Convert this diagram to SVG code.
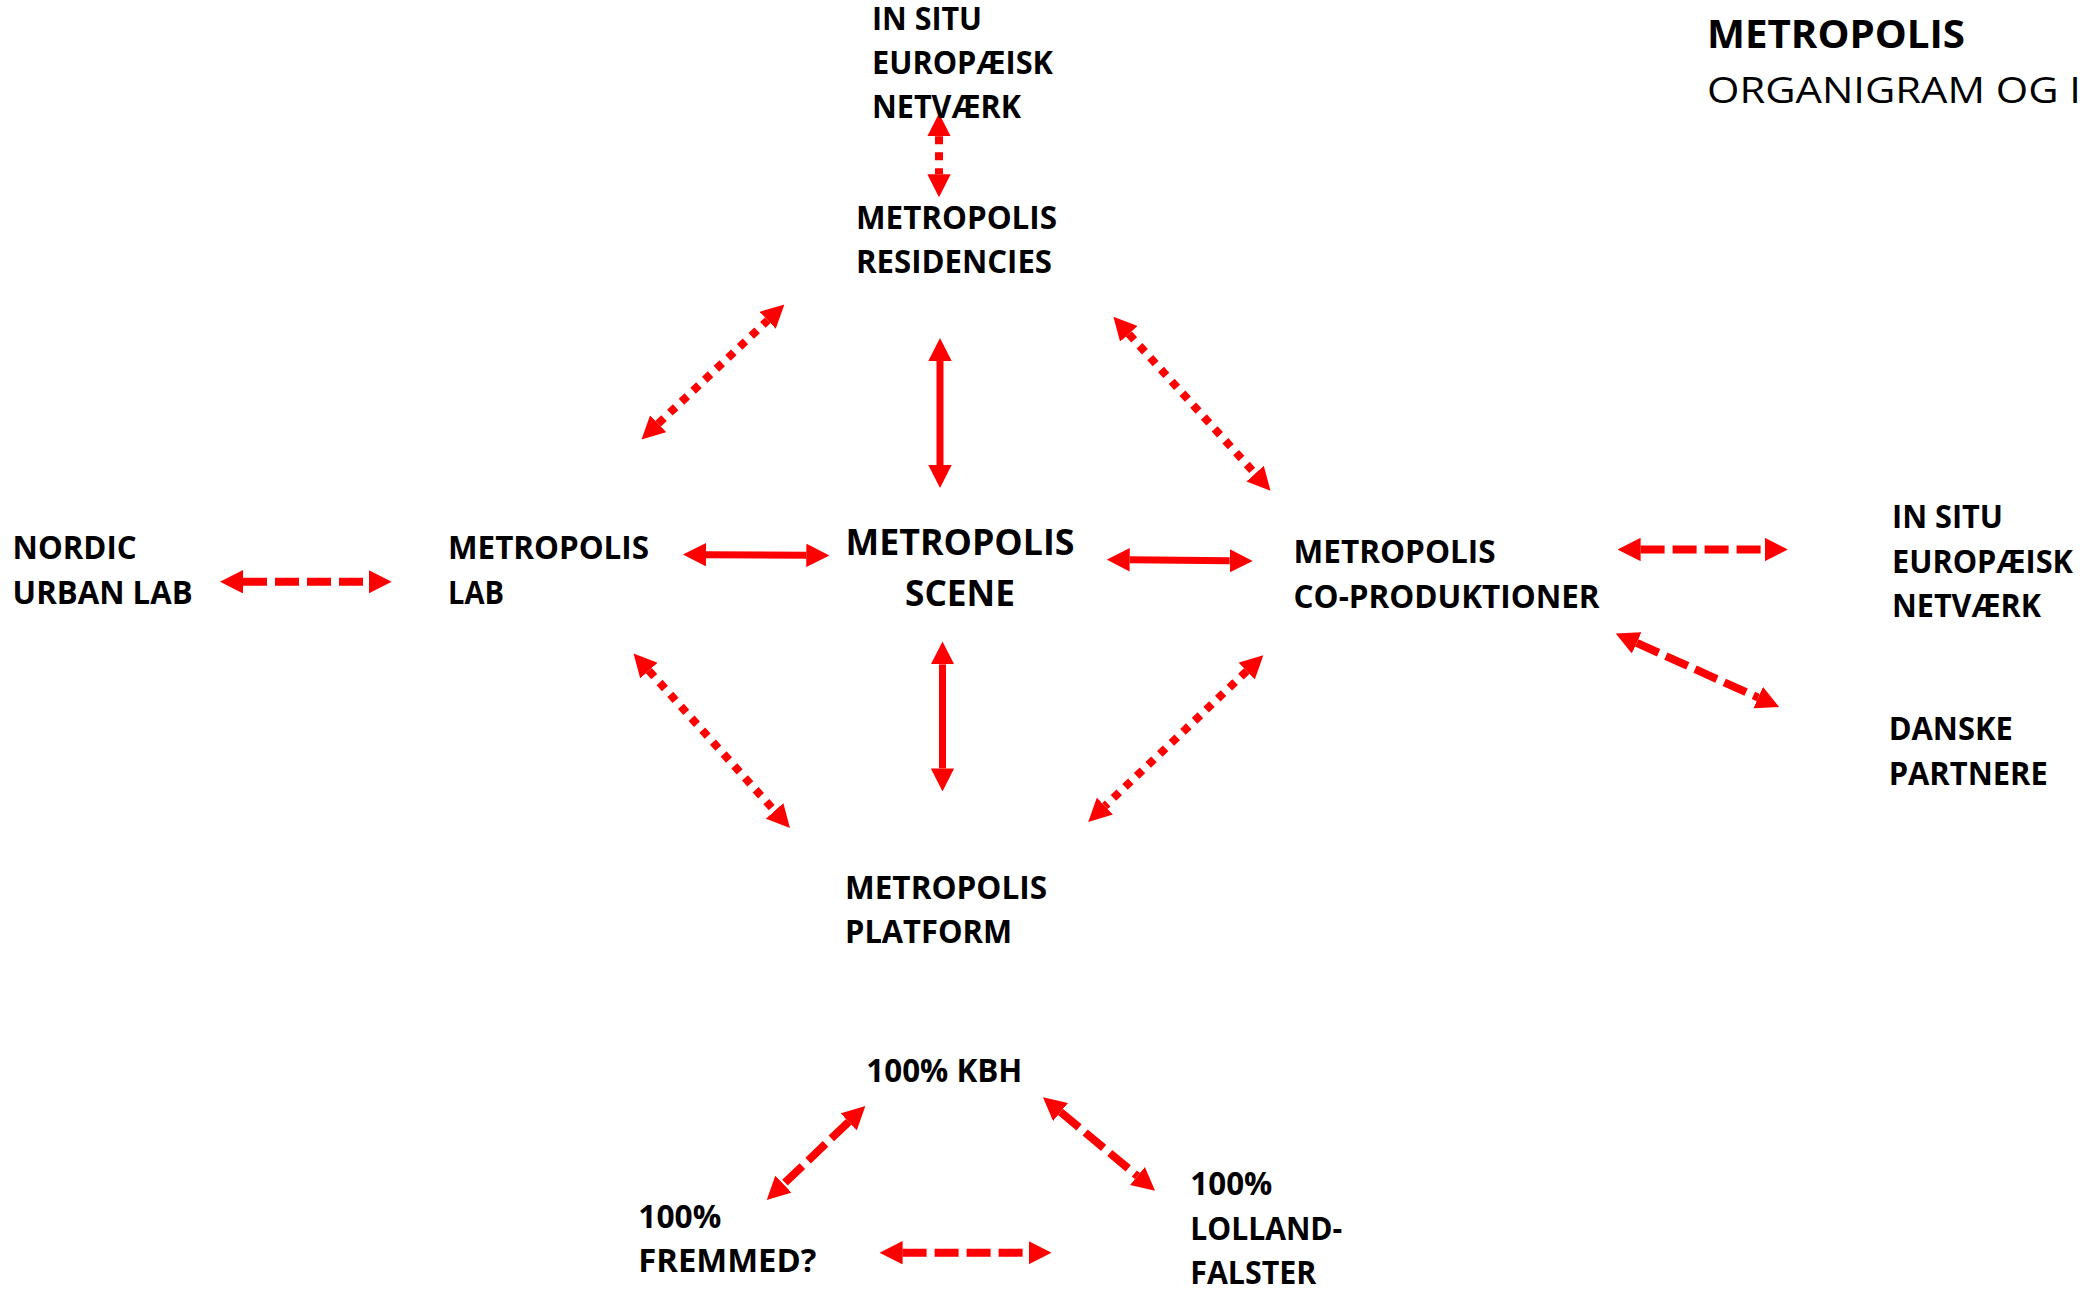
<svg xmlns="http://www.w3.org/2000/svg" width="2080" height="1289" viewBox="0 0 2080 1289">
<defs>
<marker id="ah" viewBox="0 0 23 23.4" refX="0" refY="11.7" markerWidth="23" markerHeight="23.4" markerUnits="userSpaceOnUse" orient="auto-start-reverse">
<path d="M0,0 L23,11.7 L0,23.4 Z" fill="#FF0000"/>
</marker>
</defs>
<style>
.t{font-family:"Open Sans","Noto Sans","Liberation Sans",sans-serif;font-weight:700;font-size:32px;fill:#000}
.big{font-size:36px}
.title{font-size:40px}
.reg{font-weight:400;font-size:37px}
.c{fill:none;stroke:#FF0000;marker-start:url(#ah);marker-end:url(#ah)}
.solid{stroke-width:7}
.dot{stroke-width:8;stroke-dasharray:8 8}
.dash{stroke-width:8;stroke-dasharray:24 8}
</style>
<rect width="2080" height="1289" fill="#FFFFFF"/>

<g id="connectors">
<path class="c dot" d="M939,136.3 L939,174.3"/>
<path class="c solid" d="M940,361 L940,465"/>
<path class="c solid" d="M942.5,664.4 L942.5,768.4"/>
<path class="c solid" d="M706,554.66 L806.3,555.34"/>
<path class="c solid" d="M1129.7,559.82 L1229.7,560.78"/>
<path class="c dot" d="M658.2,423.7 L767.7,320.3"/>
<path class="c dot" d="M1128.8,333.9 L1255.1,473.6"/>
<path class="c dot" d="M648.9,670.6 L774.6,810.9"/>
<path class="c dot" d="M1246.7,671.1 L1104.9,806.1"/>
<path class="c dash" d="M243,581.7 L368.7,581.7"/>
<path class="c dash" d="M1640.6,549.5 L1764.9,549.5"/>
<path class="c dash" d="M1636.7,642.9 L1758.2,697.6"/>
<path class="c dash" d="M848.7,1121.9 L783.4,1184.1"/>
<path class="c dash" d="M1060.6,1112 L1137.4,1176"/>
<path class="c dash" d="M902.6,1252.7 L1028.5,1252.7"/>
</g>

<g id="title">
<text class="t title" x="1707" y="48" textLength="258" lengthAdjust="spacingAndGlyphs">METROPOLIS</text>
<text class="t reg" x="1707" y="103" textLength="374" lengthAdjust="spacingAndGlyphs">ORGANIGRAM OG I</text>
</g>

<g id="insitu-top">
<text class="t" x="872" y="30" textLength="110" lengthAdjust="spacingAndGlyphs">IN SITU</text>
<text class="t" x="872" y="74" textLength="181" lengthAdjust="spacingAndGlyphs">EUROPÆISK</text>
<text class="t" x="872" y="118" textLength="149" lengthAdjust="spacingAndGlyphs">NETVÆRK</text>
</g>

<g id="residencies">
<text class="t" x="856" y="229" textLength="201" lengthAdjust="spacingAndGlyphs">METROPOLIS</text>
<text class="t" x="856" y="273" textLength="196" lengthAdjust="spacingAndGlyphs">RESIDENCIES</text>
</g>

<g id="nordic">
<text class="t" x="12.6" y="559" textLength="124" lengthAdjust="spacingAndGlyphs">NORDIC</text>
<text class="t" x="12.6" y="604" textLength="180" lengthAdjust="spacingAndGlyphs">URBAN LAB</text>
</g>

<g id="lab">
<text class="t" x="448" y="559" textLength="201" lengthAdjust="spacingAndGlyphs">METROPOLIS</text>
<text class="t" x="448" y="604" textLength="56" lengthAdjust="spacingAndGlyphs">LAB</text>
</g>

<g id="scene">
<text class="t big" x="845.5" y="555" textLength="229" lengthAdjust="spacingAndGlyphs">METROPOLIS</text>
<text class="t big" x="905" y="606" textLength="110" lengthAdjust="spacingAndGlyphs">SCENE</text>
</g>

<g id="coproduktioner">
<text class="t" x="1293.6" y="563" textLength="202" lengthAdjust="spacingAndGlyphs">METROPOLIS</text>
<text class="t" x="1293.6" y="608" textLength="306" lengthAdjust="spacingAndGlyphs">CO-PRODUKTIONER</text>
</g>

<g id="insitu-right">
<text class="t" x="1892" y="528" textLength="111" lengthAdjust="spacingAndGlyphs">IN SITU</text>
<text class="t" x="1892" y="573" textLength="181" lengthAdjust="spacingAndGlyphs">EUROPÆISK</text>
<text class="t" x="1892" y="617" textLength="149" lengthAdjust="spacingAndGlyphs">NETVÆRK</text>
</g>

<g id="danske">
<text class="t" x="1888.7" y="740" textLength="124" lengthAdjust="spacingAndGlyphs">DANSKE</text>
<text class="t" x="1888.7" y="785" textLength="159" lengthAdjust="spacingAndGlyphs">PARTNERE</text>
</g>

<g id="platform">
<text class="t" x="845" y="899" textLength="202" lengthAdjust="spacingAndGlyphs">METROPOLIS</text>
<text class="t" x="845" y="943" textLength="167" lengthAdjust="spacingAndGlyphs">PLATFORM</text>
</g>

<g id="kbh">
<text class="t" x="866.3" y="1082" textLength="156" lengthAdjust="spacingAndGlyphs">100% KBH</text>
</g>

<g id="fremmed">
<text class="t" x="638.3" y="1228" textLength="83" lengthAdjust="spacingAndGlyphs">100%</text>
<text class="t" x="638.3" y="1272" textLength="178" lengthAdjust="spacingAndGlyphs">FREMMED?</text>
</g>

<g id="lolland">
<text class="t" x="1190.3" y="1195" textLength="82" lengthAdjust="spacingAndGlyphs">100%</text>
<text class="t" x="1190.3" y="1240" textLength="152" lengthAdjust="spacingAndGlyphs">LOLLAND-</text>
<text class="t" x="1190.3" y="1284" textLength="126" lengthAdjust="spacingAndGlyphs">FALSTER</text>
</g>
</svg>
